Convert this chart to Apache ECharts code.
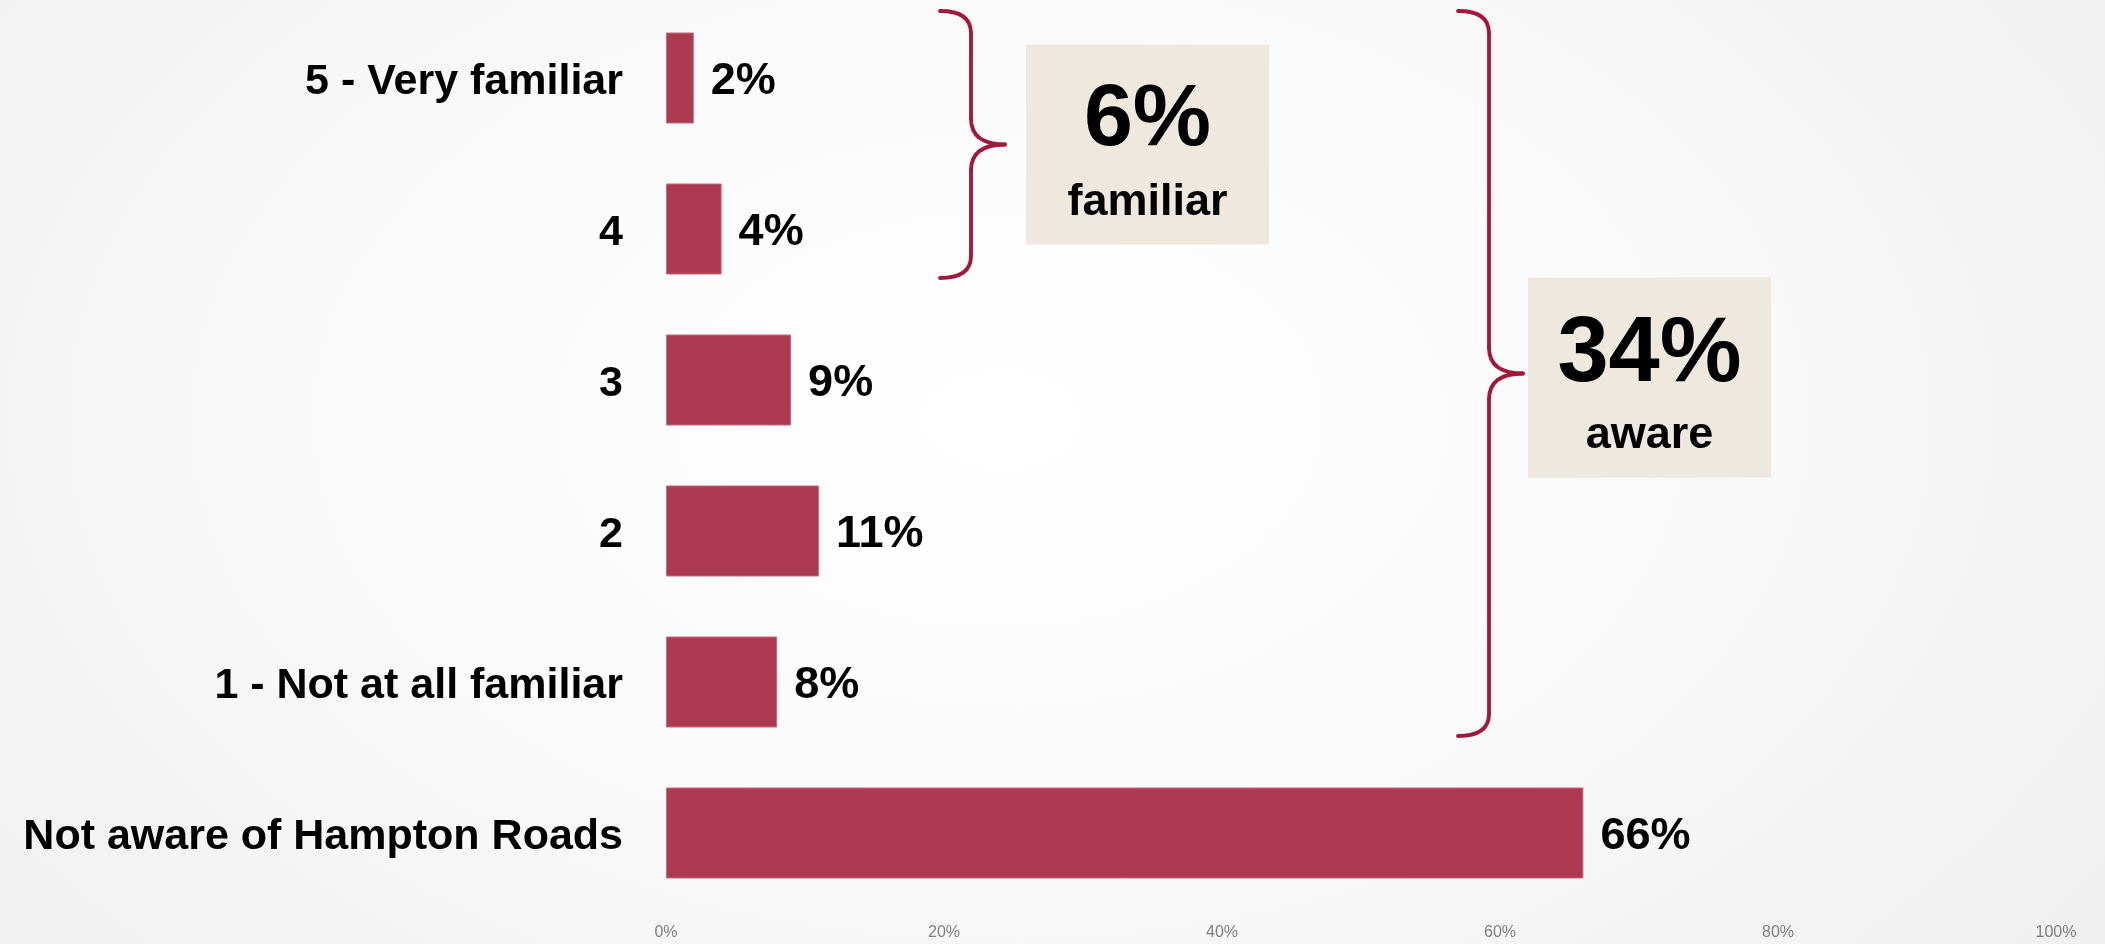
<!DOCTYPE html>
<html>
<head>
<meta charset="utf-8">
<script src="https://cdn.jsdelivr.net/npm/echarts@6/dist/echarts.min.js"></script>
<style>
  html, body { margin: 0; padding: 0; }
  body {
    width: 2105px; height: 944px; overflow: hidden;
    background: radial-gradient(ellipse 1400px 900px at 1000px 420px, #ffffff 0%, #fbfbfb 40%, #efefef 100%);
  }
  #chart { width: 2105px; height: 944px; }
</style>
</head>
<body>
<div id="chart"></div>
<script>
// Familiarity with Hampton Roads (share of respondents, %)
const categories = [
  '5 - Very familiar',
  '4',
  '3',
  '2',
  '1 - Not at all familiar',
  'Not aware of Hampton Roads'
];
const shares = [2, 4, 9, 11, 8, 66];
const axisTicks = [0, 20, 40, 60, 80, 100];

// Grouped totals shown beside the braces
const familiarRows = [0, 1];          // ratings 5 and 4
const awareRows = [0, 1, 2, 3, 4];    // every rating 1-5
const familiarWord = 'familiar';
const awareWord = 'aware';

const FONT = '"Liberation Sans", Arial, sans-serif';
const BAR = '#ad3a51';
const BRACE = '#a3173b';
const BOX = '#efe8df';

const sumOf = rows => rows.reduce((s, i) => s + shares[i], 0);

const chart = echarts.init(document.getElementById('chart'), null, { renderer: 'canvas' });

chart.setOption({
  backgroundColor: 'transparent',
  animation: false,
  grid: { left: 666, right: 49, top: 2.5, bottom: 35.5, containLabel: false },
  xAxis: {
    type: 'value',
    min: axisTicks[0],
    max: axisTicks[axisTicks.length - 1],
    interval: axisTicks[1] - axisTicks[0],
    axisLine: { show: false },
    axisTick: { show: false },
    splitLine: { show: false },
    axisLabel: {
      formatter: '{value}%',
      color: '#7f7f7f',
      fontFamily: FONT,
      fontSize: 16,
      margin: 16
    }
  },
  yAxis: {
    type: 'category',
    data: categories,
    inverse: true,
    axisLine: { show: false },
    axisTick: { show: false },
    splitLine: { show: false },
    axisLabel: {
      margin: 43,
      formatter: v => '{cat|' + v + '}',
      rich: {
        cat: {
          color: '#000',
          fontFamily: FONT,
          fontWeight: 'bold',
          fontSize: 43,
          padding: [9, 0, 0, 0]
        }
      }
    }
  },
  series: [{
    type: 'bar',
    data: shares,
    barWidth: 91,
    itemStyle: { color: BAR, borderColor: '#c46a7c', borderWidth: 1 },
    label: {
      show: true,
      position: 'right',
      distance: 17,
      offset: [0, 4],
      formatter: '{c}%',
      color: '#000',
      fontFamily: FONT,
      fontWeight: 'bold',
      fontSize: 45
    }
  }]
});

// Curly brace opening to the right, built from straight runs and quadratic bends
function braceParts(x0, top, bottom) {
  const xv = x0 + 31, xt = xv + 34, mid = (top + bottom) / 2, r = 22, m = 26;
  const stroke = { stroke: BRACE, lineWidth: 3.8, fill: null, lineCap: 'round' };
  const curve = (x1, y1, cx, cy, x2, y2) => ({
    type: 'bezierCurve',
    shape: { x1: x1, y1: y1, cpx1: cx, cpy1: cy, x2: x2, y2: y2 },
    style: stroke
  });
  const line = (x1, y1, x2, y2) => ({
    type: 'line',
    shape: { x1: x1, y1: y1, x2: x2, y2: y2 },
    style: stroke
  });
  return [
    curve(x0, top, xv, top, xv, top + r),
    line(xv, top + r, xv, mid - m),
    curve(xv, mid - m, xv, mid, xt, mid),
    curve(xt, mid, xv, mid, xv, mid + m),
    line(xv, mid + m, xv, bottom - r),
    curve(xv, bottom - r, xv, bottom, x0, bottom)
  ];
}

function yOf(i) { return chart.convertToPixel({ yAxisIndex: 0 }, categories[i]); }

function groupAnnotation(rows, x0, topPad, bottomPad, box, bigFont, word, wordFont) {
  const top = yOf(rows[0]) - topPad;
  const bottom = yOf(rows[rows.length - 1]) + bottomPad;
  const mid = (top + bottom) / 2;
  const boxTop = mid + box.dy - box.h / 2;
  const cx = box.x + box.w / 2;
  return braceParts(x0, top, bottom).concat([
    {
      type: 'rect',
      shape: { x: box.x, y: boxTop, width: box.w, height: box.h },
      style: { fill: BOX }
    },
    {
      type: 'text',
      x: cx, y: boxTop + box.bigY,
      style: {
        text: sumOf(rows) + '%', fill: '#000',
        font: 'bold ' + bigFont + 'px ' + FONT,
        align: 'center', verticalAlign: 'middle'
      }
    },
    {
      type: 'text',
      x: cx, y: boxTop + box.wordY,
      style: {
        text: word, fill: '#000',
        font: 'bold ' + wordFont + 'px ' + FONT,
        align: 'center', verticalAlign: 'middle'
      }
    }
  ]);
}

const graphics = []
  .concat(groupAnnotation(familiarRows, 940, 67, 49,
    { x: 1026, w: 243, h: 200, dy: 0, bigY: 76, wordY: 158 }, 88, familiarWord, 45))
  .concat(groupAnnotation(awareRows, 1458, 67, 54,
    { x: 1528, w: 243, h: 200, dy: 4, bigY: 78, wordY: 158 }, 92, awareWord, 45));

chart.setOption({ graphic: graphics });
</script>
</body>
</html>
